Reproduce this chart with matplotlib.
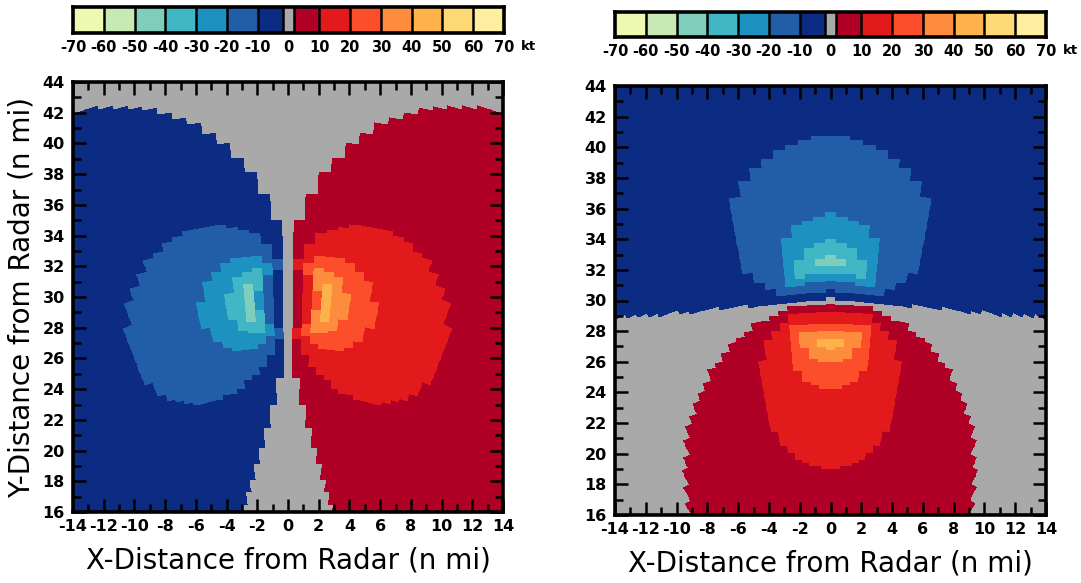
import numpy as np
import matplotlib
matplotlib.use("Agg")
import matplotlib.pyplot as plt
from matplotlib.colors import ListedColormap, BoundaryNorm
from matplotlib.ticker import MultipleLocator

# ---- velocity colour classes (kt) ----
CLASS_EDGES = [-70, -60, -50, -40, -30, -20, -10, -2.8, 2.8, 10, 20, 30, 40, 50, 60, 70]
CLASS_COLORS = ['#edf8b1', '#c7e9b4', '#7fcdbb', '#41b6c4', '#1d91c0', '#225ea8', '#0c2c84',
                '#a9a9a9',
                '#b10026', '#e31a1c', '#fc4e2a', '#fd8d3c', '#feb24c', '#fed976', '#ffeda0']
# drawn box edges of the colour bar (near-zero boxes are narrower)
BAR_EDGES = [-70, -60, -50, -40, -30, -20, -10, -1.9, 1.9, 10, 20, 30, 40, 50, 60, 70]
BAR_LABEL_VALUES = [-70, -60, -50, -40, -30, -20, -10, 0, 10, 20, 30, 40, 50, 60, 70]
BAR_LABELS = ['-70', '-60', '-50', '-40', '-30', '-20', '-10', '0',
              '10', '20', '30', '40', '50', '60', '70']

X_TICKS = list(range(-14, 15, 2))
Y_TICKS = list(range(16, 45, 2))

# ---- simulated storm circulation (n mi, kt) ----
PEAK_WIND = 46.0
CORE_RADIUS = 2.7
CENTER_X, CENTER_Y = 0.0, 29.9
INNER_EXP = 1.2
OUTER_EXP = 1.1
# radar sampling
BEAM_DEG = 1.2
GATE_NMI = 0.25

cmap = ListedColormap(CLASS_COLORS)
norm = BoundaryNorm(CLASS_EDGES, cmap.N)


def wind_profile(r):
    r = np.maximum(r, 1e-6)
    inner = PEAK_WIND * (r / CORE_RADIUS) ** INNER_EXP
    outer = PEAK_WIND * (CORE_RADIUS / r) ** OUTER_EXP
    return np.where(r < CORE_RADIUS, inner, outer)


# polar radar grid (azimuth measured from north)
n_beams = 45
az_edges = np.deg2rad((np.arange(-n_beams, n_beams + 1) - 0.5) * BEAM_DEG)
az_edges = np.append(az_edges, az_edges[-1] + np.deg2rad(BEAM_DEG))
az_cent = 0.5 * (az_edges[:-1] + az_edges[1:])
rng_edges = np.arange(13.0, 48.0 + GATE_NMI / 2, GATE_NMI)
rng_cent = 0.5 * (rng_edges[:-1] + rng_edges[1:])

AZE, RE = np.meshgrid(az_edges, rng_edges)
XE, YE = RE * np.sin(AZE), RE * np.cos(AZE)
AZC, RC = np.meshgrid(az_cent, rng_cent)
XC, YC = RC * np.sin(AZC), RC * np.cos(AZC)

dx, dy = XC - CENTER_X, YC - CENTER_Y
dist = np.hypot(dx, dy)
speed = wind_profile(dist)
ux, uy = XC / RC, YC / RC

# cyclonic vortex: tangential (counter-clockwise) flow
vortex = speed * ((-dy / dist) * ux + (dx / dist) * uy)
# convergence: flow directed toward the centre
converge = -speed * ((dx / dist) * ux + (dy / dist) * uy)

FIG_W, FIG_H = 1081, 583
fig = plt.figure(figsize=(FIG_W / 100, FIG_H / 100), dpi=100)


def px_axes(x0, y0, x1, y1):
    return fig.add_axes([x0 / FIG_W, 1 - y1 / FIG_H, (x1 - x0) / FIG_W, (y1 - y0) / FIG_H])


tick_font = dict(family='DejaVu Sans', weight='bold', size=11.5)


def draw_field(ax, field, ylabel):
    ax.pcolormesh(XE, YE, field, cmap=cmap, norm=norm, shading='flat',
                  antialiased=False, edgecolors='none', rasterized=True)
    ax.set_xlim(-14, 14)
    ax.set_ylim(16, 44)
    ax.set_xticks(X_TICKS)
    ax.set_yticks(Y_TICKS)
    ax.set_xticklabels([str(v) for v in X_TICKS], fontdict=tick_font)
    ax.set_yticklabels([str(v) for v in Y_TICKS], fontdict=tick_font)
    ax.xaxis.set_minor_locator(MultipleLocator(1))
    ax.yaxis.set_minor_locator(MultipleLocator(1))
    ax.tick_params(which='both', direction='in', top=True, right=True, width=1.8, color='black')
    ax.tick_params(which='major', length=9.5)
    ax.tick_params(which='minor', length=6)
    ax.tick_params(axis='x', which='major', pad=5)
    ax.tick_params(axis='y', which='major', pad=6)
    for s in ax.spines.values():
        s.set_linewidth(2.6)
    ax.set_xlabel('X-Distance from Radar (n mi)', fontsize=20, labelpad=9)
    if ylabel:
        ax.set_ylabel('Y-Distance from Radar (n mi)', fontsize=20, labelpad=5)


def draw_bar(ax):
    ax.pcolormesh(np.array(BAR_EDGES), np.array([0, 1]),
                  np.arange(len(CLASS_COLORS)).reshape(1, -1),
                  cmap=cmap, vmin=-0.5, vmax=len(CLASS_COLORS) - 0.5, shading='flat')
    ax.vlines(BAR_EDGES[1:-1], 0, 1, colors='black', linewidth=1.8)
    ax.set_xlim(BAR_EDGES[0], BAR_EDGES[-1])
    ax.set_ylim(0, 1)
    ax.set_yticks([])
    ax.set_xticks(BAR_LABEL_VALUES)
    ax.set_xticklabels(BAR_LABELS, fontdict=dict(family='DejaVu Sans', weight='bold', size=10.5))
    ax.tick_params(axis='x', length=0, pad=5)
    for s in ax.spines.values():
        s.set_linewidth(2.6)
    ax.annotate('kt', xy=(BAR_EDGES[-1], 0), xycoords=('data', 'axes fraction'),
                xytext=(12, -5), textcoords='offset points', ha='left', va='top',
                fontsize=9.5, fontweight='bold')


ax_l = px_axes(73, 82, 503, 512)
ax_r = px_axes(615, 86, 1046, 515)
draw_field(ax_l, vortex, True)
draw_field(ax_r, converge, False)

cb_l = px_axes(73, 7, 504, 33)
cb_r = px_axes(615, 12, 1046, 37)
draw_bar(cb_l)
draw_bar(cb_r)

fig.savefig('out.png', dpi=100)
